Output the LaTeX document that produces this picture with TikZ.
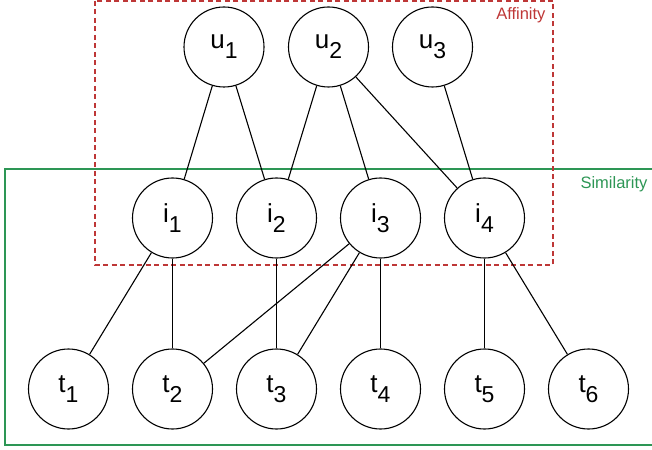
\documentclass[tikz,border=0pt]{standalone}
\usepackage{fontspec}
\setmainfont{Liberation Sans}
\definecolor{affred}{RGB}{190,55,55}
\definecolor{simgreen}{RGB}{45,150,85}
\newcommand{\lbl}[2]{#1\raisebox{-10bp}{\fontsize{23bp}{23bp}\selectfont #2}}
\tikzset{
  vtx/.style={circle, draw=black, line width=1.1bp, minimum size=80bp, inner sep=0pt, font=\fontsize{26bp}{26bp}\selectfont},
  conn/.style={color=black, line width=1.1bp},
  affbox/.style={color=affred, line width=1.2bp, dash pattern=on 5bp off 3.5bp},
  simbox/.style={color=simgreen, line width=1.2bp},
}
\begin{document}
\begin{tikzpicture}[x=1bp,y=-1bp]
\useasboundingbox (0,0) rectangle (652,450);
% group boxes
\draw[simbox] (660,169) -- (5,169) -- (5,445) -- (660,445);
\draw[affbox] (95,1) rectangle (553,265);
\node[anchor=base east, text=affred, font=\fontsize{16.5bp}{16.5bp}\selectfont] (afflabel) at (549,19.5) {Affinity};
\node[anchor=base east, text=simgreen, font=\fontsize{16.5bp}{16.5bp}\selectfont] (simlabel) at (651,188.5) {Similarity};
% users
\node[vtx] (u1) at (224,47) {\lbl{u}{1}};
\node[vtx] (u2) at (328.5,47) {\lbl{u}{2}};
\node[vtx] (u3) at (432.5,47) {\lbl{u}{3}};
% items
\node[vtx] (i1) at (172.5,218) {\lbl{i}{1}};
\node[vtx] (i2) at (276.5,218) {\lbl{i}{2}};
\node[vtx] (i3) at (380.5,218) {\lbl{i}{3}};
\node[vtx] (i4) at (484.5,218) {\lbl{i}{4}};
% tags
\node[vtx] (t1) at (68.5,389) {\lbl{t}{1}};
\node[vtx] (t2) at (172.5,389) {\lbl{t}{2}};
\node[vtx] (t3) at (276.5,389) {\lbl{t}{3}};
\node[vtx] (t4) at (380.5,389) {\lbl{t}{4}};
\node[vtx] (t5) at (484.5,389) {\lbl{t}{5}};
\node[vtx] (t6) at (588.5,389) {\lbl{t}{6}};
% edges
\draw[conn] (u1) -- (i1);
\draw[conn] (u1) -- (i2);
\draw[conn] (u2) -- (i2);
\draw[conn] (u2) -- (i3);
\draw[conn] (u2) -- (i4);
\draw[conn] (u3) -- (i4);
\draw[conn] (i1) -- (t1);
\draw[conn] (i1) -- (t2);
\draw[conn] (i2) -- (t3);
\draw[conn] (i3) -- (t2);
\draw[conn] (i3) -- (t3);
\draw[conn] (i3) -- (t4);
\draw[conn] (i4) -- (t5);
\draw[conn] (i4) -- (t6);
\end{tikzpicture}
\end{document}
